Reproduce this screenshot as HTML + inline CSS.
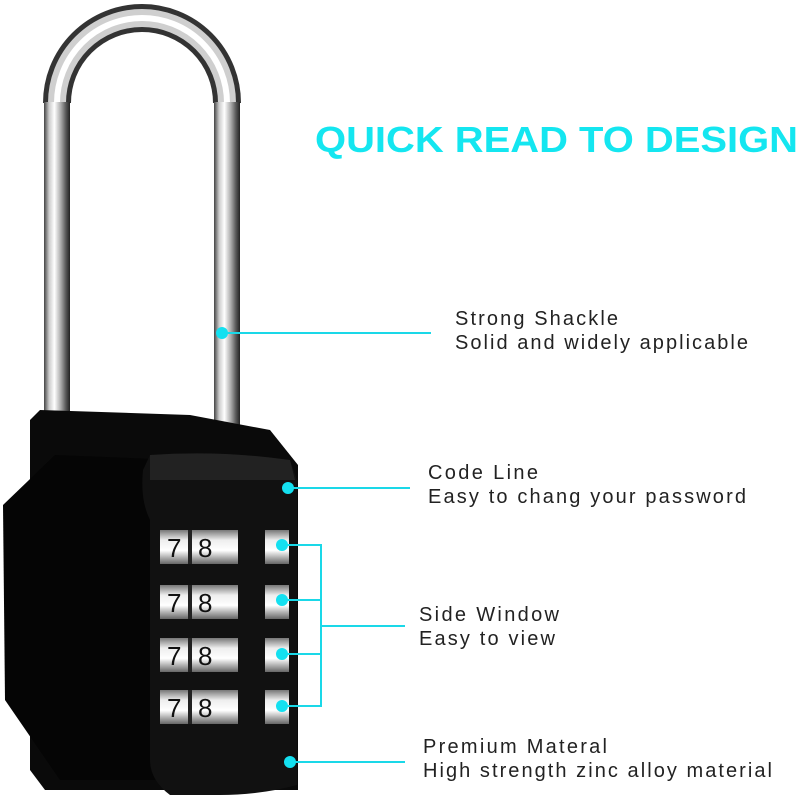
<!DOCTYPE html>
<html><head><meta charset="utf-8"><style>
html,body{margin:0;padding:0;background:#fff;width:800px;height:800px;overflow:hidden}
svg{display:block}
text{font-family:"Liberation Sans",sans-serif}
</style></head><body>
<svg width="800" height="800" viewBox="0 0 800 800" xmlns="http://www.w3.org/2000/svg">
<defs>
<linearGradient id="chrome" x1="0" x2="1" y1="0" y2="0">
<stop offset="0" stop-color="#444"/><stop offset="0.2" stop-color="#ccc"/><stop offset="0.4" stop-color="#fff"/><stop offset="0.65" stop-color="#aaa"/><stop offset="0.85" stop-color="#555"/><stop offset="1" stop-color="#222"/>
</linearGradient>
<linearGradient id="wheel" x1="0" x2="0" y1="0" y2="1">
<stop offset="0" stop-color="#777"/><stop offset="0.3" stop-color="#eee"/><stop offset="0.6" stop-color="#fff"/><stop offset="1" stop-color="#666"/>
</linearGradient>
</defs>
<rect width="800" height="800" fill="#fff"/>
<!-- shackle -->
<path d="M57 103 A85 85 0 0 1 227 103" fill="none" stroke="#333" stroke-width="28"/>
<path d="M57 103 A85 85 0 0 1 227 103" fill="none" stroke="#cfcfcf" stroke-width="18"/>
<path d="M57 103 A85 85 0 0 1 227 103" fill="none" stroke="#fff" stroke-width="6"/>
<rect x="44" y="102" width="26" height="340" fill="url(#chrome)"/>
<rect x="214" y="102" width="26" height="340" fill="url(#chrome)"/>
<!-- body -->
<path d="M40 410 L190 415 L270 430 L298 465 L298 790 L45 790 L30 770 L30 420 Z" fill="#0a0a0a"/>
<path d="M55 455 L180 460 L180 780 L60 780 L5 700 L3 505 Z" fill="#050505"/>
<path d="M150 455 Q220 450 290 460 L297 480 L297 785 Q260 795 220 795 L170 795 Q150 780 150 760 L150 520 Q140 500 143 470 Z" fill="#111"/>
<path d="M150 455 Q220 450 290 460 L295 480 L150 480 Z" fill="#222"/>
<!-- number wheels -->
<g font-family="Liberation Sans,sans-serif" font-size="26" fill="#111">
<g transform="translate(0,530)"><rect x="160" y="0" width="78" height="34" fill="url(#wheel)"/><rect x="265" y="0" width="24" height="34" fill="url(#wheel)"/><text x="167" y="27">7</text><text x="198" y="27">8</text><rect x="188" y="0" width="4" height="34" fill="#222"/></g>
<g transform="translate(0,585)"><rect x="160" y="0" width="78" height="34" fill="url(#wheel)"/><rect x="265" y="0" width="24" height="34" fill="url(#wheel)"/><text x="167" y="27">7</text><text x="198" y="27">8</text><rect x="188" y="0" width="4" height="34" fill="#222"/></g>
<g transform="translate(0,638)"><rect x="160" y="0" width="78" height="34" fill="url(#wheel)"/><rect x="265" y="0" width="24" height="34" fill="url(#wheel)"/><text x="167" y="27">7</text><text x="198" y="27">8</text><rect x="188" y="0" width="4" height="34" fill="#222"/></g>
<g transform="translate(0,690)"><rect x="160" y="0" width="78" height="34" fill="url(#wheel)"/><rect x="265" y="0" width="24" height="34" fill="url(#wheel)"/><text x="167" y="27">7</text><text x="198" y="27">8</text><rect x="188" y="0" width="4" height="34" fill="#222"/></g>
</g>
<!-- connectors -->
<g stroke="#1ad8e8" stroke-width="2" fill="none">
<line x1="222" y1="333" x2="431" y2="333"/>
<line x1="288" y1="488" x2="410" y2="488"/>
<polyline points="282,545 321,545 321,706 282,706"/>
<line x1="282" y1="600" x2="321" y2="600"/>
<line x1="282" y1="654" x2="321" y2="654"/>
<line x1="321" y1="626" x2="405" y2="626"/>
<line x1="290" y1="762" x2="405" y2="762"/>
</g>
<g fill="#14e0f0">
<circle cx="222" cy="333" r="6"/><circle cx="288" cy="488" r="6"/>
<circle cx="282" cy="545" r="6"/><circle cx="282" cy="600" r="6"/><circle cx="282" cy="654" r="6"/><circle cx="282" cy="706" r="6"/>
<circle cx="290" cy="762" r="6"/>
</g>
<text x="315" y="152" font-size="36" font-weight="bold" fill="#14e6f0" textLength="483" lengthAdjust="spacingAndGlyphs">QUICK READ TO DESIGN</text>
<g font-size="20" fill="#222">
<text x="455" y="325" textLength="163">Strong Shackle</text>
<text x="455" y="349" textLength="293">Solid and widely applicable</text>
<text x="428" y="479" textLength="110">Code Line</text>
<text x="428" y="503" textLength="318">Easy to chang your password</text>
<text x="419" y="621" textLength="140">Side Window</text>
<text x="419" y="645" textLength="136">Easy to view</text>
<text x="423" y="753" textLength="184">Premium Materal</text>
<text x="423" y="777" textLength="349">High strength zinc alloy material</text>
</g>
</svg>
</body></html>
